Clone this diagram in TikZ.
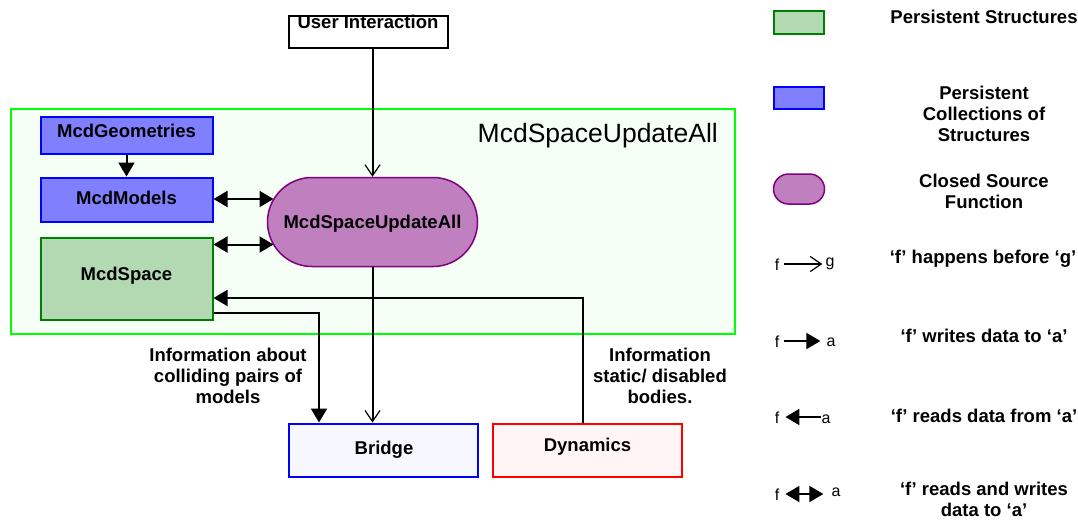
\documentclass[tikz,border=0pt]{standalone}
\usepackage{fontspec}
\setmainfont{Liberation Sans}
\usetikzlibrary{arrows.meta,calc}

\definecolor{structfill}{RGB}{179,217,179}
\definecolor{structline}{RGB}{0,128,0}
\definecolor{collfill}{RGB}{128,128,255}
\definecolor{collline}{RGB}{0,0,255}
\definecolor{funcfill}{RGB}{192,128,192}
\definecolor{funcline}{RGB}{128,0,128}
\definecolor{framefill}{RGB}{246,255,246}
\definecolor{frameline}{RGB}{0,255,0}
\definecolor{bridgefill}{RGB}{247,247,255}
\definecolor{dynfill}{RGB}{255,245,245}

\begin{document}
\begin{tikzpicture}[x=1pt,y=-1pt,
  txt/.style={inner sep=0pt, font=\fontsize{18.5}{21}\selectfont\bfseries},
  small/.style={inner sep=0pt, font=\fontsize{16}{18}\selectfont},
  boxshape/.style={rectangle, inner sep=0pt, line width=2pt},
  structbox/.style={boxshape, draw=structline, fill=structfill},
  collbox/.style={boxshape, draw=collline, fill=collfill},
  funcbox/.style={rectangle, inner sep=0pt, line width=1.5pt, draw=funcline, fill=funcfill},
  conn/.style={line width=2pt},
  happens/.style={conn, -{Straight Barb[length=11pt,width=15pt,line width=1.2pt]}},
  writes/.style={conn, -{Triangle[length=14pt,width=16pt]}},
  reads/.style={conn, {Triangle[length=14pt,width=16pt]}-},
  readwrite/.style={conn, {Triangle[length=14pt,width=16pt]}-{Triangle[length=14pt,width=16pt]}}]

% canvas
\useasboundingbox (0,0) rectangle (1078,520);
\fill[white] (0,0) rectangle (1078,520);

% container of the update call
\node[boxshape, draw=frameline, fill=framefill, minimum width=724pt, minimum height=225pt] (frame) at (372.5,221.5) {};
\node[inner sep=0pt, anchor=base east, font=\fontsize{26.5}{30}\selectfont] (frametitle) at (718,142) {McdSpaceUpdateAll};

% user interaction: the label sits against the top edge of its box
\node[txt, anchor=base] (uitext) at (368,28) {User Interaction};
\node[boxshape, draw=black, minimum width=159pt, minimum height=32pt] (ui) at (368,31.5) {};

% structures inside the container
\node[collbox, minimum width=172pt, minimum height=37pt] (geo) at (126.5,135) {};
\node[txt, anchor=base] (geotext) at (126.5,137) {McdGeometries};
\node[collbox, minimum width=172pt, minimum height=44pt] (models) at (126.5,199.5) {};
\node[txt, anchor=base] (modelstext) at (126.5,204.5) {McdModels};
\node[structbox, minimum width=172pt, minimum height=82pt] (space) at (126.5,278.5) {};
\node[txt, anchor=base] (spacetext) at (126.5,280) {McdSpace};

% closed source function
\node[funcbox, rounded corners=44.5pt, minimum width=210pt, minimum height=89pt] (upd) at (372.5,222) {};
\node[txt, anchor=base] (updtext) at (372.5,228) {McdSpaceUpdateAll};
\coordinate (updA) at (273.5,199);
\coordinate (updB) at (273.5,244.5);

% bridge and dynamics
\node[boxshape, draw=collline, fill=bridgefill, minimum width=189pt, minimum height=53pt] (bridge) at (383.5,450) {};
\node[txt, anchor=base] (bridgetext) at (384,454) {Bridge};
\node[boxshape, draw=red, fill=dynfill, minimum width=189pt, minimum height=53pt] (dyn) at (587.5,450) {};
\node[txt, anchor=base] (dyntext) at (587.5,451) {Dynamics};

% connectors
\draw[happens] (upd.north |- ui.south) -- (upd.north);
\draw[writes] (geo.south) -- (models.north);
\draw[readwrite] (models.east |- updA) -- (updA);
\draw[readwrite] (space.east |- updB) -- (updB);
\draw[writes] (dyn.north -| 583,0) |- (space.east |- 0,298);
\draw[writes] (space.east |- 0,312.5) -| (bridge.north -| 319,0);
\draw[happens] (upd.south) -- (upd.south |- bridge.north);

% connector notes
\node[txt, align=center, anchor=north] (collnote) at (228,348) {Information about\\colliding pairs of\\models};
\node[txt, align=center, anchor=north] (dynnote) at (660,348) {Information\\static/ disabled\\bodies.};

% legend: shapes
\node[structbox, minimum width=50pt, minimum height=23pt] (lgstruct) at (798.5,22.5) {};
\node[txt, anchor=base] (lgstructtext) at (984,23) {Persistent Structures};
\node[collbox, minimum width=50pt, minimum height=22pt] (lgcoll) at (798.5,98) {};
\node[txt, align=center, anchor=north] (lgcolltext) at (984,86) {Persistent\\Collections of\\Structures};
\node[funcbox, rounded corners=15pt, minimum width=51pt, minimum height=30pt] (lgfunc) at (799,189) {};
\node[txt, align=center, anchor=north] (lgfunctext) at (984,174) {Closed Source\\Function};

% legend: connectors
\node[small, anchor=base] (f1) at (777,270) {f};
\node[small, anchor=base] (g1) at (830,266) {g};
\draw[happens] ($(f1.east |- 0,264)+(5,0)$) -- ($(g1.west |- 0,264)+(-3,0)$);
\node[txt, anchor=base] (lghappens) at (983,263) {‘f’ happens before ‘g’};

\node[small, anchor=base] (f2) at (777,347) {f};
\node[small, anchor=base] (a2) at (831,346) {a};
\draw[writes] ($(f2.east |- 0,341)+(5,0)$) -- ($(a2.west |- 0,341)+(-6,0)$);
\node[txt, anchor=base] (lgwrites) at (984,342) {‘f’ writes data to ‘a’};

\node[small, anchor=base] (f3) at (777,423) {f};
\node[small, anchor=base] (a3) at (826,423) {a};
\draw[reads] ($(f3.east |- 0,417)+(6,0)$) -- (a3.west |- 0,417);
\node[txt, anchor=base] (lgreads) at (984,422) {‘f’ reads data from ‘a’};

\node[small, anchor=base] (f4) at (777,500) {f};
\node[small, anchor=base] (a4) at (836,496) {a};
\draw[readwrite] ($(f4.east |- 0,494)+(6,0)$) -- ($(a4.west |- 0,494)+(-8,0)$);
\node[txt, align=center, anchor=north] (lgrw) at (984,482) {‘f’ reads and writes\\data to ‘a’};
\end{tikzpicture}
\end{document}
